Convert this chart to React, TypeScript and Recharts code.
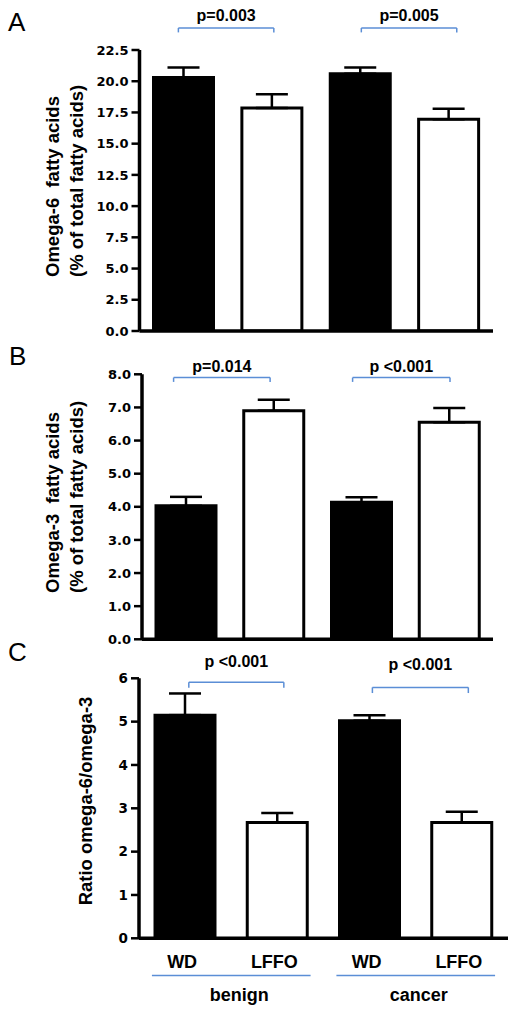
import React from "react";
import {
  BarChart,
  Bar,
  XAxis,
  YAxis,
  Cell,
  ErrorBar,
  ReferenceLine,
} from "recharts";

// 群とダイエット
const groups = ["benign", "cancer"];
const diets = ["WD", "LFFO", "WD", "LFFO"];

// A: omega-6 (% of total fatty acids)
const omega6Mean = [20.3, 17.85, 20.6, 16.95];
const omega6Sem = [0.8, 1.1, 0.5, 0.85];
const omega6Ticks = [0, 2.5, 5, 7.5, 10, 12.5, 15, 17.5, 20, 22.5];
const omega6P = ["p=0.003", "p=0.005"];

// B: omega-3 (% of total fatty acids)
const omega3Mean = [4.03, 6.9, 4.14, 6.55];
const omega3Sem = [0.27, 0.33, 0.15, 0.43];
const omega3Ticks = [0, 1, 2, 3, 4, 5, 6, 7, 8];
const omega3P = ["p=0.014", "p <0.001"];

// C: omega-6 / omega-3
const ratioMean = [5.15, 2.67, 5.02, 2.67];
const ratioSem = [0.5, 0.22, 0.13, 0.25];
const ratioTicks = [0, 1, 2, 3, 4, 5, 6];
const ratioP = ["p <0.001", "p <0.001"];

const FONT = "'Liberation Sans', Arial, sans-serif";
const TICK_FONT = "'DejaVu Sans', Verdana, sans-serif";
const BLUE = "#5b8ed6";

const rows = (mean: number[], sem: number[]) =>
  mean.map((v, i) => ({ x: i, diet: diets[i], value: v, err: [0, sem[i]] }));

const axisLine = { stroke: "#000", strokeWidth: 3.5 };
const tickLine = { stroke: "#000", strokeWidth: 2.5 };

// 有意差のブラケット（水平線 + 両端の短い縦線 + p値）
function bracket(
  key: string,
  x1: number,
  x2: number,
  y: number,
  drop: number,
  label: string,
  offset: number
) {
  const style = { stroke: BLUE, strokeWidth: 1.5 };
  return [
    <ReferenceLine
      key={key + "h"}
      segment={[{ x: x1, y }, { x: x2, y }]}
      ifOverflow="visible"
      {...style}
      label={{
        value: label,
        position: "top",
        offset,
        fill: "#000",
        fontSize: 16,
        fontWeight: "bold",
        fontFamily: FONT,
      }}
    />,
    <ReferenceLine
      key={key + "l"}
      segment={[{ x: x1, y }, { x: x1, y: y - drop }]}
      ifOverflow="visible"
      {...style}
    />,
    <ReferenceLine
      key={key + "r"}
      segment={[{ x: x2, y }, { x: x2, y: y - drop }]}
      ifOverflow="visible"
      {...style}
    />,
  ];
}

function bars() {
  return (
    <Bar dataKey="value" barSize={60} isAnimationActive={false}>
      {diets.map((d, i) => (
        <Cell
          key={i}
          fill={d === "WD" ? "#000" : "#fff"}
          stroke="#000"
          strokeWidth={3}
        />
      ))}
      <ErrorBar
        dataKey="err"
        direction="y"
        width={16}
        stroke="#000"
        strokeWidth={2.5}
        isAnimationActive={false}
      />
    </Bar>
  );
}

function yAxis(domain: [number, number], ticks: number[], fmt: (v: number) => string, size: number) {
  return (
    <YAxis
      type="number"
      domain={domain}
      ticks={ticks}
      interval={0}
      allowDataOverflow
      tickFormatter={fmt}
      width={60}
      stroke="#000"
      tickSize={8}
      tickMargin={3}
      axisLine={axisLine}
      tickLine={tickLine}
      tick={{ fill: "#000", fontSize: size, fontWeight: "bold", fontFamily: TICK_FONT }}
    />
  );
}

const labelText = {
  fontFamily: FONT,
  fontSize: 18.5,
  fontWeight: "bold" as const,
  fill: "#000",
  whiteSpace: "pre" as const,
};

export default function App() {
  const dataA = rows(omega6Mean, omega6Sem);
  const dataB = rows(omega3Mean, omega3Sem);
  const dataC = rows(ratioMean, ratioSem);

  return (
    <div
      style={{
        position: "absolute",
        left: 0,
        top: 0,
        width: 518,
        height: 1015,
        background: "#fff",
        fontFamily: FONT,
      }}
    >
      {/* A */}
      <div style={{ position: "absolute", left: 0, top: 0 }}>
        <BarChart
          width={518}
          height={345}
          data={dataA}
          margin={{ top: 50, right: 25, bottom: 13, left: 79.5 }}
        >
          <XAxis
            type="number"
            dataKey="x"
            domain={[-0.5, 3.5]}
            ticks={[0, 1, 2, 3]}
            allowDataOverflow
            tick={false}
            tickLine={false}
            axisLine={axisLine}
            height={1}
          />
          {yAxis([0, 22.5], omega6Ticks, (v) => v.toFixed(1), 13)}
          {bars()}
          {bracket("a1", -0.06, 1.02, 24.26, 0.35, omega6P[0], 7)}
          {bracket("a2", 2.01, 3.09, 24.26, 0.35, omega6P[1], 7)}
        </BarChart>
      </div>

      {/* B */}
      <div style={{ position: "absolute", left: 0, top: 345 }}>
        <BarChart
          width={518}
          height={305}
          data={dataB}
          margin={{ top: 29.3, right: 25, bottom: 9.7, left: 82 }}
        >
          <XAxis
            type="number"
            dataKey="x"
            domain={[-0.5, 3.5]}
            ticks={[0, 1, 2, 3]}
            allowDataOverflow
            tick={false}
            tickLine={false}
            axisLine={axisLine}
            height={1}
          />
          {yAxis([0, 8], omega3Ticks, (v) => v.toFixed(1), 13)}
          {bars()}
          {bracket("b1", -0.14, 0.96, 7.9, 0.13, omega3P[0], 6)}
          {bracket("b2", 1.9, 3.01, 7.9, 0.13, omega3P[1], 6)}
        </BarChart>
      </div>

      {/* C */}
      <div style={{ position: "absolute", left: 0, top: 650 }}>
        <BarChart
          width={518}
          height={365}
          data={dataC}
          margin={{ top: 28.3, right: 10, bottom: 36.7, left: 79 }}
        >
          <XAxis
            type="number"
            dataKey="x"
            domain={[-0.5, 3.5]}
            ticks={[0, 1, 2, 3]}
            allowDataOverflow
            interval={0}
            tickFormatter={(v) => diets[v]}
            tickLine={false}
            tickSize={0}
            tickMargin={17}
            axisLine={axisLine}
            height={40}
            tick={{ fill: "#000", fontSize: 18, fontWeight: "bold", fontFamily: FONT, dx: -3 }}
          />
          {yAxis([0, 6], ratioTicks, (v) => String(v), 13.5)}
          {bars()}
          {bracket("c1", 0.04, 1.07, 5.91, 0.13, ratioP[0], 15)}
          {bracket("c2", 2.03, 3.07, 5.79, 0.13, ratioP[1], 17)}
          {groups.map((g, i) => (
            <ReferenceLine
              key={g}
              segment={[
                { x: i * 2 - 0.36, y: -0.86 },
                { x: i * 2 + 1.36, y: -0.86 },
              ]}
              ifOverflow="visible"
              stroke={BLUE}
              strokeWidth={1.5}
              label={{
                value: g,
                position: "bottom",
                offset: 13,
                dx: i === 0 ? 8 : 3,
                fill: "#000",
                fontSize: 18,
                fontWeight: "bold",
                fontFamily: FONT,
              }}
            />
          ))}
        </BarChart>
      </div>

      {/* パネル記号と縦軸タイトル */}
      <svg
        width={518}
        height={1015}
        style={{ position: "absolute", left: 0, top: 0, pointerEvents: "none" }}
      >
        <text x={8} y={31} fontFamily={FONT} fontSize={26}>A</text>
        <text x={9} y={365} fontFamily={FONT} fontSize={26}>B</text>
        <text x={8} y={661} fontFamily={FONT} fontSize={26}>C</text>

        <text transform="translate(58.5,277) rotate(-90)" style={labelText}>
          {"Omega-6  fatty acids"}
        </text>
        <text transform="translate(83,277) rotate(-90)" style={labelText}>
          (% of total fatty acids)
        </text>

        <text transform="translate(59,593) rotate(-90)" style={labelText}>
          {"Omega-3  fatty acids"}
        </text>
        <text transform="translate(83,593) rotate(-90)" style={labelText}>
          (% of total fatty acids)
        </text>

        <text
          transform="translate(92,801) rotate(-90)"
          textAnchor="middle"
          style={labelText}
        >
          Ratio omega-6/omega-3
        </text>
      </svg>
    </div>
  );
}
